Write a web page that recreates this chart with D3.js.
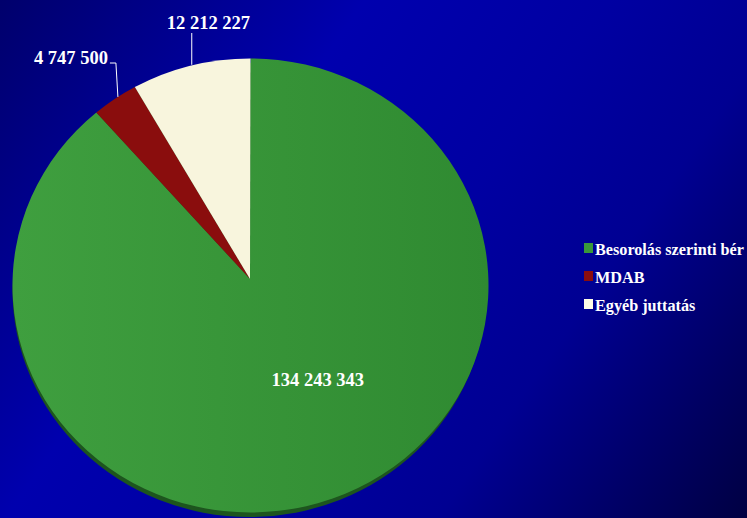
<!DOCTYPE html>
<html>
<head>
<meta charset="utf-8">
<script src="https://cdn.jsdelivr.net/npm/d3@7/dist/d3.min.js"></script>
<style>
  html, body { margin: 0; padding: 0; background: #000080; }
  svg { display: block; }
</style>
</head>
<body>
<svg id="chart" width="747" height="518"></svg>
<script>
// Chart data
const categories = ["Besorolás szerinti bér", "MDAB", "Egyéb juttatás"];
const values = [134243343, 4747500, 12212227];
const valueLabels = ["134 243 343", "4 747 500", "12 212 227"];
const colors = ["#3a983a", "#8a0d0d", "#f8f5dd"];

const W = 747, H = 518;
const svg = d3.select("#chart");

// Pie geometry (slightly tilted, so the disc is an ellipse and the apex sits a little above its centre)
const cx = 250.5, cy = 285.5, rx = 238, ry = 227;
const apex = [250, 279];
const fontFamily = "'Liberation Serif', 'Times New Roman', serif";

const defs = svg.append("defs");

// Background: dark navy corners with a brighter blue band across the diagonal
const bg = defs.append("linearGradient")
  .attr("id", "bg").attr("gradientUnits", "userSpaceOnUse")
  .attr("x1", 0).attr("y1", 0).attr("x2", W).attr("y2", H);
[[0, "#00006c"], [0.33, "#0000ae"], [0.55, "#0000a2"], [0.72, "#000092"], [1, "#000042"]]
  .forEach(([o, c]) => bg.append("stop").attr("offset", o).attr("stop-color", c));
svg.append("rect").attr("width", W).attr("height", H).attr("fill", "url(#bg)");

// Gentle horizontal shading on the large slice
const gg = defs.append("linearGradient")
  .attr("id", "greenShade").attr("gradientUnits", "userSpaceOnUse")
  .attr("x1", cx - rx).attr("y1", 0).attr("x2", cx + rx).attr("y2", 0);
gg.append("stop").attr("offset", 0).attr("stop-color", "#3f9f3f");
gg.append("stop").attr("offset", 1).attr("stop-color", "#2f8a31");

const pie = d3.pie().sort(null).value(d => d);
const arcs = pie(values);

const pt = (a, k = 1) => [cx + rx * k * Math.sin(a), cy - ry * k * Math.cos(a)];

function slicePath(d) {
  const p0 = pt(d.startAngle), p1 = pt(d.endAngle);
  const large = d.endAngle - d.startAngle > Math.PI ? 1 : 0;
  const p = d3.path();
  p.moveTo(apex[0], apex[1]);
  p.lineTo(p0[0], p0[1]);
  return p.toString() +
    `A${rx},${ry} 0 ${large} 1 ${p1[0]},${p1[1]}Z`;
}

// Thickness under the disc
svg.append("ellipse")
  .attr("cx", cx - 1).attr("cy", cy + 4.5).attr("rx", rx - 1).attr("ry", ry)
  .attr("fill", "#1d551e");

svg.append("g").selectAll("path")
  .data(arcs)
  .join("path")
  .attr("d", slicePath)
  .attr("fill", (d, i) => i === 0 ? "url(#greenShade)" : colors[i]);

// Value labels
const labelStyle = sel => sel
  .attr("font-family", fontFamily)
  .attr("font-weight", "bold")
  .attr("font-size", 18.5)
  .attr("fill", "#ffffff");

// Large slice: label inside
{
  const d = arcs[0];
  const mid = (d.startAngle + d.endAngle) / 2;
  const x = cx + rx * 0.82 * Math.sin(mid);
  const y = apex[1] - ry * 0.5 * Math.cos(mid);
  svg.append("text").call(labelStyle)
    .attr("x", x).attr("y", y).attr("text-anchor", "middle")
    .text(valueLabels[0]);
}

// Small slices: labels outside with leader lines
{
  const d = arcs[2];
  const mid = (d.startAngle + d.endAngle) / 2;
  const e = pt(mid);
  svg.append("line")
    .attr("x1", e[0] + 1).attr("y1", e[1] - 1)
    .attr("x2", e[0] + 1).attr("y2", 33)
    .attr("stroke", "#ffffff").attr("stroke-width", 1);
  svg.append("text").call(labelStyle)
    .attr("x", e[0] - 24).attr("y", 29).attr("text-anchor", "start")
    .text(valueLabels[2]);
}
{
  const d = arcs[1];
  const mid = (d.startAngle + d.endAngle) / 2;
  const e = pt(mid);
  svg.append("polyline")
    .attr("points", [[e[0] + 3, e[1] - 2], [e[0] + 1, 63], [e[0] - 5, 63]].map(p => p.join(",")).join(" "))
    .attr("fill", "none").attr("stroke", "#ffffff").attr("stroke-width", 1);
  svg.append("text").call(labelStyle)
    .attr("x", e[0] - 7).attr("y", 64).attr("text-anchor", "end")
    .text(valueLabels[1]);
}

// Legend
const legend = svg.append("g").attr("transform", "translate(584,243)");
const rows = legend.selectAll("g")
  .data(categories)
  .join("g")
  .attr("transform", (d, i) => `translate(0,${i * 28})`);
rows.append("rect")
  .attr("width", 9).attr("height", 10)
  .attr("fill", (d, i) => i === 2 ? "#fffde6" : colors[i]);
rows.append("text")
  .attr("x", 11).attr("y", 11.5)
  .attr("font-family", fontFamily)
  .attr("font-weight", "bold")
  .attr("font-size", 16.2)
  .attr("fill", "#ffffff")
  .text(d => d);
</script>
</body>
</html>
